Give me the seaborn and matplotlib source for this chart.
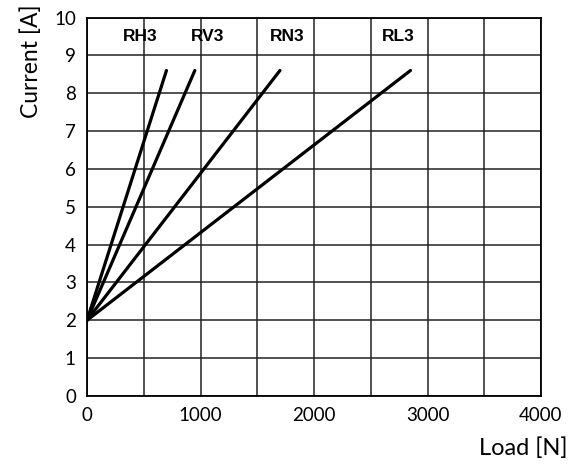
import numpy as np
import pandas as pd
import matplotlib
matplotlib.use("Agg")
import matplotlib.pyplot as plt
import seaborn as sns

models = ["RH3", "RV3", "RN3", "RL3"]
max_load = [700, 950, 1700, 2850]       # load at end of each line [N]
current_start = [2.0, 2.0, 2.0, 2.0]     # current at zero load [A]
current_end = [8.6, 8.6, 8.6, 8.6]       # current at max load [A]
label_load = [470, 1065, 1760, 2740]     # where the model names sit

rows = []
for m, l, c0, c1 in zip(models, max_load, current_start, current_end):
    rows.append({"Model": m, "Load": 0, "Current": c0})
    rows.append({"Model": m, "Load": l, "Current": c1})
df = pd.DataFrame(rows)

sns.set_style("white")
plt.rcParams["font.family"] = ["Lato", "DejaVu Sans"]
plt.rcParams["text.color"] = "black"
plt.rcParams["axes.labelcolor"] = "black"
plt.rcParams["xtick.color"] = "black"
plt.rcParams["ytick.color"] = "black"

fig = plt.figure(figsize=(5.82, 4.65), dpi=100)
ax = fig.add_axes([87 / 582, 1 - 396 / 465, 454 / 582, 378.5 / 465])

sns.lineplot(data=df, x="Load", y="Current", hue="Model",
             palette=["black"] * 4, linewidth=2.3, legend=False, ax=ax)

for m, lx in zip(models, label_load):
    ax.text(lx, 9.5, m, ha="center", va="center", fontsize=12.5,
            fontweight="bold", family="Liberation Sans")

ax.set_xlim(0, 4000)
ax.set_ylim(0, 10)
ax.set_xticks([0, 1000, 2000, 3000, 4000])
ax.set_xticks(np.arange(0, 4001, 500), minor=True)
ax.set_yticks(range(0, 11))
ax.grid(True, which="both", color="#222222", linewidth=1.1)
ax.set_axisbelow(True)
for s in ax.spines.values():
    s.set_color("black")
    s.set_linewidth(1.3)
ax.tick_params(axis="both", which="both", length=0, labelsize=13.5, pad=8)

ax.set_xlabel("Load [N]", fontsize=17)
ax.xaxis.set_label_coords(0.962, -0.11)
ax.set_ylabel("Current [A]", fontsize=16.5)
ax.yaxis.set_label_coords(-0.1, 0.885)

fig.savefig("out.png", dpi=100)
